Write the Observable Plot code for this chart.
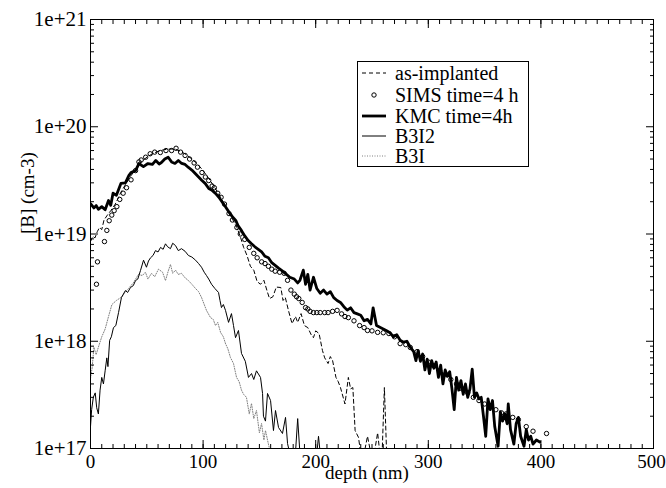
<!DOCTYPE html>
<html>
<head>
<meta charset="utf-8">
<script src="https://cdn.jsdelivr.net/npm/d3@7"></script>
<script src="https://cdn.jsdelivr.net/npm/@observablehq/plot@0.6"></script>
<style>
  html, body { margin: 0; padding: 0; background: white; }
  #wrap { position: relative; width: 666px; height: 488px; font-family: "Liberation Serif", "DejaVu Serif", serif; }
  #wrap svg, #wrap text { font-family: "Liberation Serif", "DejaVu Serif", serif !important; }
  #wrap g[aria-label="y-axis tick label"] text { font-size: 21px !important; }
  #wrap g[aria-label="x-axis tick label"] text { font-size: 19px !important; }
  #legend { position: absolute; left: 357px; top: 61px; }
</style>
</head>
<body>
<div id="wrap"></div>
<script>
// ---- data: [depth (nm), concentration (cm-3)] ----
const asImplanted = [[0,8.5e18],[2,9.5e18],[4,9.2e18],[6,1.05e19],[8,1.15e19],[10,1.1e19],[12,1.35e19],[15,1.5e19],[18,1.65e19],[22,1.9e19],[27,2.45e19],[32,3.0e19],[36,3.5e19],[40,4.0e19],[45,4.7e19],[50,5.2e19],[55,5.6e19],[60,5.9e19],[65,6.1e19],[70,6.2e19],[75,6.2e19],[80,5.9e19],[85,5.5e19],[90,5.0e19],[95,4.5e19],[100,3.9e19],[105,3.3e19],[110,2.75e19],[115,2.25e19],[120,1.8e19],[125,1.45e19],[130,1.15e19],[133,9.5e18],[136,7.5e18],[139,6.3e18],[142,5.0e18],[145,4.6e18],[148,3.6e18],[151,3.4e18],[154,3.7e18],[157,2.9e18],[159,2.5e18],[162,2.6e18],[165,3.2e18],[169,3.17e18],[171,2.4e18],[173,2.56e18],[176,1.9e18],[179,1.46e18],[182,1.7e18],[184,1.5e18],[187,1.81e18],[190,1.4e18],[193,1.34e18],[196,1.15e18],[198,1.08e18],[200,1.25e18],[203,1.18e18],[206,8.2e17],[208,7.0e17],[211,6.2e17],[213,7.2e17],[215,6.6e17],[218,4.6e17],[220,4.2e17],[222,3.7e17],[226,2.6e17],[229,4.6e17],[231,3.6e17],[233,3.7e17],[235,1.47e17],[238,1.27e17],[240,9e16],[243,9e16],[246,1.3e17],[249,9e16],[252,9e16],[255,1.4e17],[257,9e16],[259,9e16],[261,3.7e17],[263,9e16],[266,9e16]];

const sims = [[5.3,3.4e18],[6.2,5.5e18],[12.4,8.5e18],[14.5,1.08e19],[16.6,1.33e19],[18.9,1.5e19],[21,1.65e19],[23.4,1.8e19],[26,2.1e19],[29,2.4e19],[32,2.7e19],[36,3.2e19],[40,3.9e19],[43,4.7e19],[45,4.9e19],[49,5.2e19],[53,5.6e19],[57,5.8e19],[62,5.75e19],[67,6.0e19],[72,6.0e19],[76,6.3e19],[80,5.8e19],[84,5.4e19],[88,5.0e19],[92,4.6e19],[95,4.2e19],[99,3.74e19],[102,3.4e19],[105,3.15e19],[108,2.8e19],[110,2.7e19],[113,2.4e19],[116,2.2e19],[119,1.9e19],[123,1.55e19],[126,1.35e19],[130,1.15e19],[133,1.0e19],[137,8.9e18],[141,7.5e18],[145,6.6e18],[148,6.0e18],[152,5.5e18],[155,5.3e18],[158,5.0e18],[161,4.7e18],[164,4.5e18],[168,4.4e18],[172,4.3e18],[175,3.7e18],[178,3.0e18],[181,2.75e18],[183,2.6e18],[185,2.5e18],[188,2.3e18],[191,2.06e18],[193,2.0e18],[195,1.9e18],[198,1.85e18],[201,1.85e18],[204,1.85e18],[208,1.85e18],[211,1.85e18],[215,1.9e18],[219,1.94e18],[223,1.8e18],[226,1.7e18],[229,1.66e18],[234,1.55e18],[239,1.4e18],[243,1.34e18],[246,1.26e18],[250,1.25e18],[255,1.21e18],[260,1.2e18],[265,1.18e18],[270,1.1e18],[275,9.5e17],[280,9.3e17],[284,8.75e17],[290,8.0e17],[295,7.2e17],[300,6.4e17],[305,5.9e17],[310,5.3e17],[315,4.9e17],[320,4.4e17],[325,4.0e17],[330,3.6e17],[335,3.3e17],[340,3.0e17],[345,2.8e17],[350,2.6e17],[355,2.45e17],[360,2.3e17],[365,2.15e17],[369,2.1e17],[375,1.95e17],[380,1.86e17],[387,1.6e17],[393,1.45e17],[405,1.38e17]];

const kmc = [[0,1.92e19],[3,1.75e19],[5,1.84e19],[7,1.7e19],[10,1.8e19],[13,1.68e19],[16,2.05e19],[18,1.85e19],[20,2.4e19],[23,2.3e19],[27,2.96e19],[31,3.0e19],[34,3.5e19],[36,3.74e19],[40,3.9e19],[43,4.54e19],[47,4.25e19],[51,4.54e19],[55,4.45e19],[58,4.85e19],[61,4.5e19],[63,4.64e19],[66,5.0e19],[69,5.2e19],[72,4.7e19],[75,4.55e19],[78,4.85e19],[81,4.55e19],[84,4.45e19],[87,4.17e19],[90,3.95e19],[93,3.66e19],[96,3.4e19],[99,3.15e19],[102,2.95e19],[105,2.66e19],[108,2.55e19],[111,2.39e19],[114,2.2e19],[116,2.05e19],[119,1.85e19],[123,1.6e19],[126,1.45e19],[129,1.34e19],[131,1.2e19],[134,1.08e19],[137,9.6e18],[140,8.7e18],[143,8.1e18],[146,7.6e18],[149,7.2e18],[152,6.8e18],[155,6.2e18],[158,6.0e18],[161,5.4e18],[164,5.1e18],[167,4.8e18],[170,4.55e18],[174,4.2e18],[177,3.95e18],[181,3.8e18],[184,3.5e18],[186,3.7e18],[189,4.6e18],[191,3.4e18],[193,4.2e18],[195,3.0e18],[198,3.95e18],[201,3.1e18],[204,2.8e18],[207,3.0e18],[210,2.75e18],[213,2.9e18],[216,2.55e18],[219,2.4e18],[222,2.3e18],[225,2.1e18],[228,1.95e18],[231,2.05e18],[234,1.85e18],[237,1.8e18],[240,1.75e18],[243,1.55e18],[246,1.6e18],[249,1.45e18],[251,2.05e18],[254,1.4e18],[257,1.35e18],[260,1.3e18],[263,1.25e18],[266,1.2e18],[269,1.1e18],[272,1.15e18],[275,1.02e18],[278,9.8e17],[281,1.0e18],[284,8.8e17],[287,8.0e17],[289,6.6e17],[291,8.2e17],[293,6.5e17],[295,7.6e17],[297,5.4e17],[299,6.8e17],[301,5.0e17],[303,6.6e17],[305,5.6e17],[307,6.4e17],[309,4.6e17],[311,6.0e17],[313,4.0e17],[315,5.4e17],[317,4.7e17],[319,5.2e17],[321,3.6e17],[323,2.3e17],[325,4.6e17],[327,3.5e17],[329,4.3e17],[331,3.2e17],[333,4.0e17],[335,3.0e17],[337,3.6e17],[339,5.5e17],[341,3.0e17],[343,3.3e17],[345,2.9e17],[347,3.0e17],[349,2.0e17],[351,1.3e17],[353,2.9e17],[355,2.3e17],[357,2.8e17],[359,1.6e17],[362,1.05e17],[364,2.2e17],[366,1.8e17],[368,2.1e17],[370,1.7e17],[371,2.6e17],[373,1.5e17],[376,1.1e17],[378,1.7e17],[380,1.95e17],[382,1.3e17],[385,1.05e17],[387,1.5e17],[389,1.2e17],[391,1.3e17],[393,1.1e17],[396,1.2e17],[399,1.15e17]];

const b3i2 = [[0,1.6e17],[1,2.3e17],[2.5,3.0e17],[4.2,3.3e17],[5.5,2.4e17],[7,2.1e17],[8.5,3.5e17],[10,4.6e17],[11.5,4.0e17],[13,5.3e17],[14.5,7.0e17],[15.5,5.8e17],[17,1.02e18],[18.5,1.1e18],[20.4,1.34e18],[22.5,1.4e18],[24.9,1.85e18],[27.5,2.56e18],[31,2.97e18],[33,2.85e18],[35.5,3.17e18],[38,3.3e18],[40,3.68e18],[42,3.8e18],[44.4,4.57e18],[47.1,5.7e18],[49.7,4.9e18],[51.5,5.6e18],[53.3,6.0e18],[55.5,6.3e18],[57.7,7.0e18],[60,6.8e18],[62.2,7.5e18],[64.5,7.2e18],[66.6,8.1e18],[68.5,7.6e18],[71,7.3e18],[73,8.2e18],[75.5,7.8e18],[78,7.0e18],[80.8,7.3e18],[84,6.9e18],[87,6.3e18],[90,6.1e18],[93.3,5.7e18],[96,5.3e18],[98.6,4.9e18],[101,4.4e18],[103,4.1e18],[105,3.8e18],[107.5,3.4e18],[110.5,3.1e18],[113.7,2.85e18],[115,2.4e18],[116.3,2.06e18],[118,2.2e18],[119.9,1.94e18],[122.6,1.5e18],[125.2,1.81e18],[127,1.4e18],[128.8,1.08e18],[131.4,1.26e18],[134.1,7.7e17],[137.5,6.5e17],[140.3,4.6e17],[143,5.0e17],[145,4.4e17],[147.4,5.3e17],[151,4.6e17],[152.8,3.26e17],[153.6,2.0e17],[155.4,1.8e17],[157.2,3.26e17],[159.9,2.8e17],[162.5,1.47e17],[164.3,2.26e17],[167,1.57e17],[170.5,1.38e17],[173.2,1.95e17],[175,1.11e17],[177,9e16],[182,9e16],[184,1.9e17],[186,9e16],[201,9e16],[202.5,1.3e17],[204,9e16]];

const b3i = [[0,4.5e17],[1.5,5.7e17],[3,8.8e17],[5,7.5e17],[7,8.8e17],[10,1.1e18],[13,1.3e18],[16,1.7e18],[19,2.2e18],[23,2.4e18],[28,2.6e18],[31,2.9e18],[33.7,3.1e18],[38,3.5e18],[42.6,4.2e18],[46,4.1e18],[48.8,4.4e18],[51,3.8e18],[54.2,4.3e18],[57,4.0e18],[60.4,4.7e18],[64,4.4e18],[66.6,3.68e18],[69,4.5e18],[71,5.2e18],[73,4.3e18],[75.5,4.6e18],[78,4.2e18],[80.8,4.3e18],[84,3.9e18],[87,3.68e18],[90,3.4e18],[93.3,3.1e18],[96,2.9e18],[98.6,2.56e18],[101,2.2e18],[103,1.94e18],[106.6,1.66e18],[109,1.6e18],[111,1.4e18],[113,1.5e18],[115.5,1.21e18],[118,1.1e18],[119.9,9.5e17],[122,8.5e17],[124.3,7.05e17],[127,6.2e17],[129.7,4.6e17],[132,4.2e17],[134.1,3.5e17],[136,3.2e17],[138.5,3.0e17],[141,2.1e17],[143,2.63e17],[145,1.9e17],[147.4,2.26e17],[150,1.4e17],[151.9,1.71e17],[154,1.2e17],[155.4,1.47e17],[158,1.1e17],[160,9e16]];

// ---- ticks & labels ----
const xLabelTicks = [0, 100, 200, 300, 400];
const xLastTick = [500];
const xMajor = [0, 100, 200, 300, 400, 500];
const xMinor = d3.range(0, 501, 10);
const yMajor = [1e17, 1e18, 1e19, 1e20, 1e21];
const yMinor = [17, 18, 19, 20].flatMap(e => [2,3,4,5,6,7,8,9].map(m => m * Math.pow(10, e)));
const xTitle = ["depth (nm)"];
const yTitle = ["[B] (cm-3)"];
const legendLabels = ["as-implanted", "SIMS time=4 h", "KMC time=4h", "B3I2", "B3I"];

const FONT = "Liberation Serif, DejaVu Serif, serif";
const X = d => d[0], Y = d => d[1];
const blank = () => "";
const yFmt = d => "1e+" + Math.round(Math.log10(d));

const chart = Plot.plot({
  width: 666, height: 488,
  marginLeft: 90, marginRight: 13, marginTop: 19, marginBottom: 40,
  style: { fontFamily: FONT, fontSize: "19px", color: "black", background: "white" },
  x: { domain: [0, 500] },
  y: { type: "log", domain: [1e17, 1e21] },
  marks: [
    Plot.line(b3i, { x: X, y: Y, stroke: "#808080", strokeWidth: 1, strokeDasharray: "1,1.5", clip: true }),
    Plot.line(b3i2, { x: X, y: Y, stroke: "black", strokeWidth: 1, clip: true }),
    Plot.line(asImplanted, { x: X, y: Y, stroke: "black", strokeWidth: 1, strokeDasharray: "4,3", clip: true }),
    Plot.dot(sims, { x: X, y: Y, r: 2.2, stroke: "black", strokeWidth: 1, fill: "none", clip: true }),
    Plot.line(kmc, { x: X, y: Y, stroke: "black", strokeWidth: 2.8, strokeLinejoin: "round", clip: true }),
    Plot.frame({ stroke: "black", strokeWidth: 1 }),
    // tick labels
    Plot.axisX(xLabelTicks, { anchor: "bottom", tickSize: 0, tickPadding: 6, fontSize: 19, fontFamily: FONT, label: null }),
    Plot.axisX(xLastTick, { anchor: "bottom", tickSize: 0, tickPadding: 6, fontSize: 19, fontFamily: FONT, label: null, dx: -2 }),
    Plot.axisY(yMajor, { anchor: "left", tickSize: 0, tickPadding: 4, fontSize: 21, fontFamily: FONT, tickFormat: yFmt, label: null }),
    // inward ticks on all four sides
    Plot.axisX(xMinor, { anchor: "bottom", tickSize: -4, tickFormat: blank, label: null }),
    Plot.axisX(xMajor, { anchor: "bottom", tickSize: -8, tickFormat: blank, label: null }),
    Plot.axisX(xMinor, { anchor: "top", tickSize: -4, tickFormat: blank, label: null }),
    Plot.axisX(xMajor, { anchor: "top", tickSize: -8, tickFormat: blank, label: null }),
    Plot.axisY(yMinor, { anchor: "left", tickSize: -4, tickFormat: blank, label: null }),
    Plot.axisY(yMajor, { anchor: "left", tickSize: -8, tickFormat: blank, label: null }),
    Plot.axisY(yMinor, { anchor: "right", tickSize: -4, tickFormat: blank, label: null }),
    Plot.axisY(yMajor, { anchor: "right", tickSize: -8, tickFormat: blank, label: null }),
    // axis titles
    Plot.text(xTitle, { text: d => d, frameAnchor: "bottom", dx: -5, dy: 30, fontSize: 19, fontFamily: FONT }),
    Plot.text(yTitle, { text: d => d, frameAnchor: "left", dx: -63, rotate: -90, fontSize: 19, fontFamily: FONT })
  ]
});

const wrap = document.getElementById("wrap");
wrap.appendChild(chart);
// make sure tick-label sizes are applied
d3.select(chart).selectAll('g[aria-label="y-axis tick label"]').attr("font-size", 21).selectAll("text").style("font-size", "21px");

// legend box inside the plot area
const lg = d3.select(wrap).append("svg")
  .attr("id", "legend").attr("width", 173).attr("height", 107)
  .attr("font-family", FONT);
lg.append("rect").attr("x", 0.5).attr("y", 0.5).attr("width", 171).attr("height", 105)
  .attr("fill", "white").attr("stroke", "black").attr("stroke-width", 1);
const rowsY = [12, 34, 55, 75, 95];
const styles = [
  { type: "line", w: 1, dash: "4,3", color: "black" },
  { type: "dot" },
  { type: "line", w: 2.8, dash: null, color: "black" },
  { type: "line", w: 1, dash: null, color: "black" },
  { type: "line", w: 1, dash: "1,1.5", color: "#808080" }
];
legendLabels.forEach((lab, i) => {
  const y = rowsY[i], s = styles[i];
  if (s.type === "dot") {
    lg.append("circle").attr("cx", 17).attr("cy", y).attr("r", 2.2)
      .attr("fill", "none").attr("stroke", "black").attr("stroke-width", 1);
  } else {
    const l = lg.append("line").attr("x1", 5).attr("x2", 29).attr("y1", y).attr("y2", y)
      .attr("stroke", s.color).attr("stroke-width", s.w);
    if (s.dash) l.attr("stroke-dasharray", s.dash);
  }
  lg.append("text").attr("x", 38).attr("y", y).attr("dy", "0.33em")
    .attr("font-size", 20).attr("font-family", FONT).attr("fill", "black").text(lab);
});
</script>
</body>
</html>
